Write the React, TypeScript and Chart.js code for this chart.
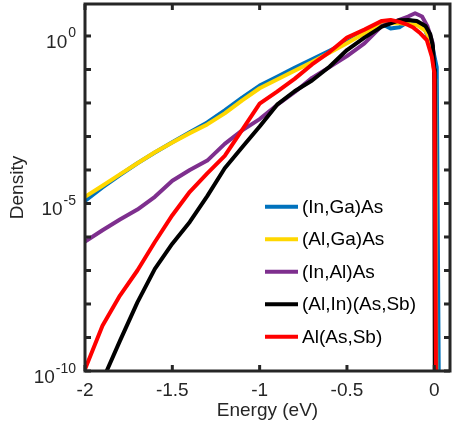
import React, { useEffect, useRef } from "react";
import { Chart, registerables } from "chart.js";

Chart.register(...registerables);

const FONT = "'Liberation Sans', Arial, Helvetica, sans-serif";
const TEXT = "#262626";

const seriesLabels = ["(In,Ga)As", "(Al,Ga)As", "(In,Al)As", "(Al,In)(As,Sb)", "Al(As,Sb)"];
const seriesColors = ["#0072BD", "#FFD700", "#7E2F8E", "#000000", "#FF0000"];

const xTickValues = [-2, -1.5, -1, -0.5, 0];
const xTickLabels = ["-2", "-1.5", "-1", "-0.5", "0"];
const yTickExponents = [-10, -9, -8, -7, -6, -5, -4, -3, -2, -1, 0];
const yLabelExponents = [-10, -5, 0];

const xMin = -2;
const xMax = 0.09;
const yMin = 1e-10;
const yMax = 9;

// Energy (eV) samples and log10(density)
const inGaAsX = [-2.0, -1.9, -1.8, -1.7, -1.6, -1.5, -1.4, -1.3, -1.2, -1.1, -1.0, -0.9, -0.8, -0.7, -0.6, -0.5, -0.4, -0.3, -0.25, -0.2, -0.14, -0.1, -0.06, -0.007, 0.014, 0.026];
const inGaAsLog = [-4.92, -4.52, -4.15, -3.8, -3.48, -3.17, -2.87, -2.58, -2.22, -1.84, -1.48, -1.22, -0.95, -0.7, -0.44, -0.18, 0.1, 0.36, 0.22, 0.26, 0.46, 0.42, 0.28, -0.42, -0.93, -10.5];

const alGaAsX = [-2.0, -1.9, -1.8, -1.7, -1.6, -1.5, -1.4, -1.3, -1.2, -1.1, -1.0, -0.9, -0.8, -0.7, -0.6, -0.5, -0.4, -0.3, -0.25, -0.2, -0.15, -0.1, -0.05, -0.02, 0.005, 0.012];
const alGaAsLog = [-4.8, -4.47, -4.13, -3.8, -3.47, -3.18, -2.9, -2.64, -2.31, -1.92, -1.56, -1.3, -1.04, -0.78, -0.5, -0.22, 0.08, 0.34, 0.38, 0.38, 0.36, 0.33, 0.15, -0.15, -1.3, -10.5];

const inAlAsX = [-2.0, -1.9, -1.8, -1.7, -1.6, -1.5, -1.4, -1.3, -1.2, -1.1, -1.0, -0.9, -0.8, -0.7, -0.6, -0.5, -0.4, -0.3, -0.2, -0.15, -0.11, -0.07, -0.04, -0.01, 0.004, 0.008];
const inAlAsLog = [-6.14, -5.8, -5.48, -5.18, -4.8, -4.32, -4.0, -3.72, -3.22, -2.82, -2.48, -2.06, -1.68, -1.25, -0.93, -0.6, -0.22, 0.3, 0.48, 0.58, 0.68, 0.58, 0.3, -0.2, -1.5, -10.5];

const alInAsSbX = [-1.9, -1.876, -1.8, -1.7, -1.6, -1.5, -1.4, -1.3, -1.2, -1.1, -1.0, -0.9, -0.8, -0.7, -0.6, -0.5, -0.4, -0.3, -0.2, -0.15, -0.1, -0.05, -0.023, -0.008, 0.0, 0.003];
const alInAsSbLog = [-10.4, -10.0, -9.1, -7.95, -6.95, -6.2, -5.55, -4.78, -3.95, -3.32, -2.7, -2.05, -1.65, -1.33, -0.92, -0.42, -0.05, 0.28, 0.47, 0.48, 0.45, 0.3, 0.05, -0.3, -1.0, -10.5];

const alAsSbX = [-2.0, -1.9, -1.8, -1.7, -1.6, -1.5, -1.4, -1.3, -1.2, -1.1, -1.0, -0.9, -0.8, -0.7, -0.6, -0.5, -0.4, -0.3, -0.25, -0.2, -0.15, -0.12, -0.08, -0.043, -0.014, 0.0, 0.01];
const alAsSbLog = [-9.95, -8.65, -7.75, -7.0, -6.15, -5.35, -4.65, -4.1, -3.58, -2.8, -2.02, -1.66, -1.28, -0.85, -0.48, -0.05, 0.19, 0.45, 0.48, 0.42, 0.33, 0.25, 0.08, -0.12, -0.62, -1.1, -10.5];

const seriesX = [inGaAsX, alGaAsX, inAlAsX, alInAsSbX, alAsSbX];
const seriesLog = [inGaAsLog, alGaAsLog, inAlAsLog, alInAsSbLog, alAsSbLog];

const decorPlugin = {
  id: "decor",
  afterDatasetsDraw(chart: any) {
    const { ctx, chartArea: a, scales } = chart;
    const xs = scales.x;
    const ys = scales.y;
    ctx.save();
    const seg = (x1: number, y1: number, x2: number, y2: number) => {
      ctx.beginPath();
      ctx.moveTo(x1, y1);
      ctx.lineTo(x2, y2);
      ctx.stroke();
    };
    // inward ticks
    ctx.strokeStyle = TEXT;
    ctx.lineWidth = 3;
    ctx.lineCap = "butt";
    const tl = 6;
    for (const e of yTickExponents) {
      const y = ys.getPixelForValue(Math.pow(10, e));
      seg(a.left, y, a.left + tl, y);
      seg(a.right, y, a.right - tl, y);
    }
    for (const t of xTickValues) {
      const x = xs.getPixelForValue(t);
      seg(x, a.bottom, x, a.bottom - tl);
      seg(x, a.top, x, a.top + tl);
    }
    // box
    ctx.lineWidth = 3;
    ctx.strokeRect(a.left, a.top, a.right - a.left, a.bottom - a.top);

    // y tick labels with superscript exponents
    ctx.fillStyle = TEXT;
    ctx.textBaseline = "alphabetic";
    ctx.textAlign = "left";
    const baseFont = `19px ${FONT}`;
    const expFont = `14px ${FONT}`;
    for (const e of yLabelExponents) {
      const y = ys.getPixelForValue(Math.pow(10, e));
      const expText = String(e);
      ctx.font = baseFont;
      const wb = ctx.measureText("10").width;
      ctx.font = expFont;
      const we = ctx.measureText(expText).width;
      const right = a.left - 9;
      const x0 = right - wb - we - 1;
      ctx.font = baseFont;
      ctx.fillText("10", x0, y + 12);
      ctx.font = expFont;
      ctx.fillText(expText, x0 + wb + 1, y + 1.5);
    }

    // legend
    const lx0 = a.left + 180;
    const lx1 = lx0 + 33;
    const y0 = a.top + 202.7;
    const dy = 32.5;
    ctx.font = `19px ${FONT}`;
    ctx.textBaseline = "middle";
    chart.data.datasets.forEach((ds: any, i: number) => {
      const y = y0 + i * dy;
      ctx.strokeStyle = ds.borderColor;
      ctx.lineWidth = 4;
      seg(lx0, y, lx1, y);
      ctx.fillStyle = "#000000";
      ctx.fillText(ds.label, lx1 + 4, y + 1);
    });
    ctx.restore();
  },
};

export default function App() {
  const ref = useRef<HTMLCanvasElement>(null);
  useEffect(() => {
    const canvas = ref.current;
    if (!canvas) return;
    const datasets = seriesLabels.map((label, i) => ({
      label,
      data: seriesX[i].map((x, j) => ({ x, y: Math.pow(10, seriesLog[i][j]) })),
      borderColor: seriesColors[i],
      backgroundColor: seriesColors[i],
      borderWidth: 4,
      pointRadius: 0,
      tension: 0,
      fill: false,
      clip: 0,
      order: seriesLabels.length - i,
      borderJoinStyle: "round" as const,
    }));
    const chart = new Chart(canvas, {
      type: "line",
      data: { datasets },
      options: {
        animation: false,
        responsive: false,
        devicePixelRatio: 1,
        events: [],
        layout: { padding: { top: 4, right: 3, left: 0, bottom: 0 } },
        plugins: { legend: { display: false }, tooltip: { enabled: false } },
        scales: {
          x: {
            type: "linear",
            min: xMin,
            max: xMax,
            grid: { display: false, drawTicks: false },
            border: { display: false },
            afterBuildTicks: (s: any) => {
              s.ticks = xTickValues.map((v) => ({ value: v }));
            },
            afterFit: (s: any) => {
              s.height = 61;
            },
            ticks: {
              font: { family: FONT, size: 19 },
              color: TEXT,
              padding: 8,
              maxRotation: 0,
              autoSkip: false,
              callback: (_v: any, idx: number) => xTickLabels[idx],
            },
            title: {
              display: true,
              text: "Energy (eV)",
              font: { family: FONT, size: 19 },
              color: TEXT,
              padding: { top: 0, bottom: 10 },
            },
          },
          y: {
            type: "logarithmic",
            min: yMin,
            max: yMax,
            grid: { display: false, drawTicks: false },
            border: { display: false },
            ticks: { display: false },
            afterFit: (s: any) => {
              s.width = 85;
            },
            title: {
              display: true,
              text: "Density",
              font: { family: FONT, size: 19 },
              color: TEXT,
              padding: { top: 6, bottom: 0 },
            },
          },
        },
      } as any,
      plugins: [decorPlugin],
    });
    return () => chart.destroy();
  }, []);
  return (
    <div style={{ position: "absolute", left: 0, top: 0, width: 453, height: 432, background: "#ffffff" }}>
      <canvas ref={ref} width={453} height={432} style={{ display: "block" }} />
    </div>
  );
}
